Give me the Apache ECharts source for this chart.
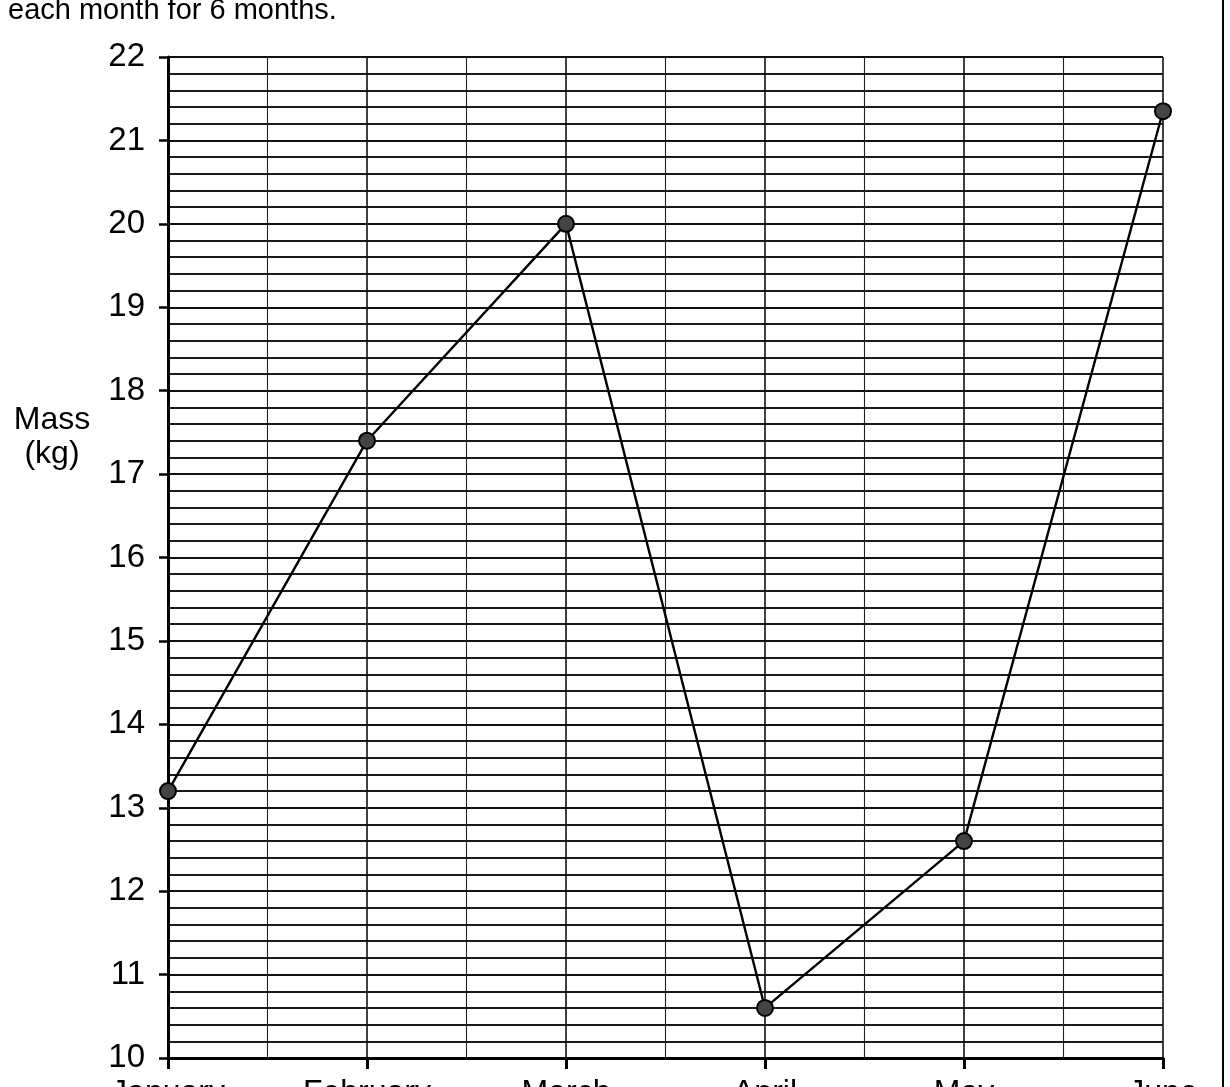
<!DOCTYPE html>
<html>
<head>
<meta charset="utf-8">
<script src="https://cdn.jsdelivr.net/npm/echarts@6/dist/echarts.min.js"></script>
<style>
html,body{margin:0;padding:0;background:#fff;overflow:hidden;}
#chart{width:1230px;height:1087px;}
</style>
</head>
<body>
<div id="chart"></div>
<script>
var months = ['January', 'February', 'March', 'April', 'May', 'June'];
var massKg = [13.2, 17.4, 20.0, 10.6, 12.6, 21.35];
var yTicks = [10, 11, 12, 13, 14, 15, 16, 17, 18, 19, 20, 21, 22];

var FONT = '"Liberation Sans", Arial, sans-serif';
var chart = echarts.init(document.getElementById('chart'), null, {renderer: 'canvas'});

var points = massKg.map(function (v, i) { return [i, v]; });

chart.setOption({
  backgroundColor: '#ffffff',
  animation: false,
  grid: {left: 168, right: 67, top: 57, bottom: 29, outerBoundsMode: 'none', containLabel: false},
  xAxis: {
    type: 'value',
    min: 0,
    max: months.length - 1,
    interval: 1,
    axisLine: {show: true, onZero: false, lineStyle: {color: '#000', width: 3}},
    axisTick: {show: true, length: 11, lineStyle: {color: '#000', width: 3}},
    minorTick: {show: true, splitNumber: 2, length: 0},
    splitLine: {show: true, lineStyle: {color: '#111', width: 1.6}},
    minorSplitLine: {show: true, lineStyle: {color: '#222', width: 1.1}},
    axisLabel: {
      margin: 19,
      fontFamily: FONT,
      fontSize: 32,
      color: '#000',
      formatter: function (v) { return months[Math.round(v)] || ''; }
    }
  },
  yAxis: {
    type: 'value',
    min: yTicks[0],
    max: yTicks[yTicks.length - 1],
    interval: 1,
    axisLine: {show: true, lineStyle: {color: '#000', width: 3}},
    axisTick: {show: true, length: 9, lineStyle: {color: '#000', width: 2.5}},
    minorTick: {show: true, splitNumber: 5, length: 0},
    splitLine: {show: true, lineStyle: {color: '#111', width: 2}},
    minorSplitLine: {show: true, lineStyle: {color: '#1a1a1a', width: 1.8}},
    axisLabel: {
      margin: 23,
      fontFamily: FONT,
      fontSize: 33,
      color: '#000'
    }
  },
  series: [{
    type: 'line',
    data: points,
    symbol: 'circle',
    symbolSize: 16,
    clip: false,
    lineStyle: {color: '#000', width: 2.4},
    itemStyle: {color: '#444', borderColor: '#000', borderWidth: 2}
  }],
  graphic: [
    {
      type: 'text',
      left: 8,
      top: -4,
      style: {text: 'each month for 6 months.', font: '29px ' + FONT, fill: '#000'}
    },
    {
      type: 'text',
      x: 52,
      y: 437,
      style: {
        text: 'Mass\n(kg)',
        font: '32px ' + FONT,
        lineHeight: 34,
        fill: '#000',
        align: 'center',
        verticalAlign: 'middle'
      }
    },
    {
      type: 'line',
      shape: {x1: 1223, y1: 0, x2: 1223, y2: 1087},
      style: {stroke: '#000', lineWidth: 2}
    }
  ]
});
</script>
</body>
</html>
